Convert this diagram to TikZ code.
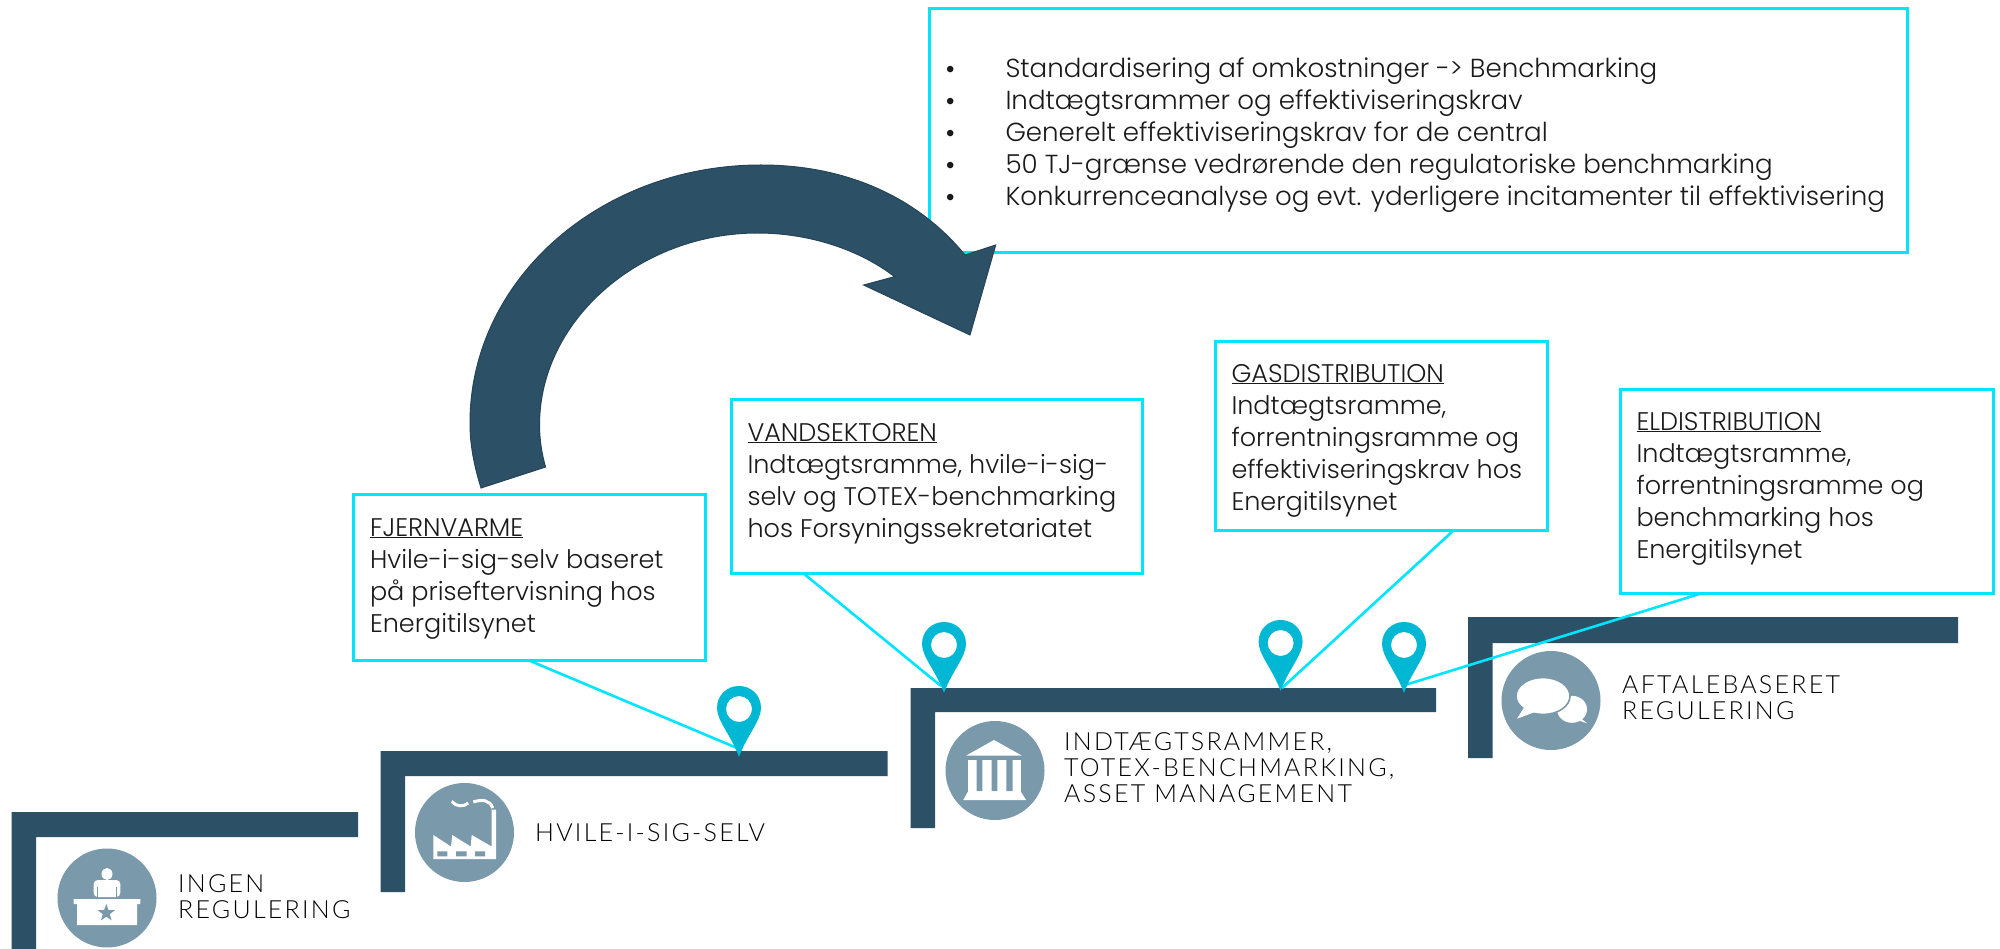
\documentclass[tikz,border=0pt]{standalone}
\usepackage{fontspec}
\setmainfont{Poppins Light}
\newfontfamily\capsfont[LetterSpace=9]{Lato Light}
\newfontfamily\bulletfont{Liberation Sans}
\usetikzlibrary{shapes.geometric}
\definecolor{stepblue}{HTML}{2C5066}
\definecolor{iconblue}{HTML}{7A99AA}
\definecolor{pincyan}{HTML}{00B8D4}
\definecolor{boxcyan}{HTML}{00E5FF}
\definecolor{inktext}{HTML}{1A1A1A}
\tikzset{
  stepbar/.style={fill=stepblue,draw=none},
  iconback/.style={circle,fill=iconblue,draw=none,minimum size=99pt,inner sep=0pt},
  iconwhite/.style={fill=white,draw=none},
  icongray/.style={fill=iconblue,draw=none},
  infobox/.style={draw=boxcyan,line width=3pt,fill=white,anchor=north west,inner xsep=16.5pt,inner ysep=0pt,outer sep=0pt,text=inktext,font=\fontsize{25.5pt}{32pt}\selectfont},
  callout/.style={draw=boxcyan,line width=2.6pt},
  steplabel/.style={anchor=base west,inner sep=0pt,align=left,text=black,font=\capsfont\fontsize{25pt}{25.7pt}\selectfont},
  mappin/.pic={
    \fill[pincyan,even odd rule] (0,0) .. controls (-8,-22) and (-22,-36) .. (-22,-49) .. controls (-22,-62) and (-12,-71) .. (0,-71) .. controls (12,-71) and (22,-62) .. (22,-49) .. controls (22,-36) and (8,-22) .. (0,0) -- cycle (0,-48) ellipse [x radius=13,y radius=13];
  }
}
% name, x, y, width, height, first-baseline offset, text
\newcommand{\infonode}[7]{%
  \node[infobox] (#1) at (#2,#3) {\parbox[c][#5pt][t]{#4pt}{\raggedright\vspace*{\dimexpr#6pt-24pt\relax}\rule{0pt}{24pt}#7}};
}
\newcommand{\hd}[1]{\underline{#1}}
\newcommand{\bul}[1]{\makebox[59.5pt][l]{{\bulletfont\fontsize{24pt}{32pt}\selectfont •}}#1\par}
\begin{document}
\begin{tikzpicture}[x=1pt,y=-1pt]
\useasboundingbox (0,0) rectangle (2000,949);
\fill[white] (0,0) rectangle (2000,949);

% top box
\infonode{topbox}{929.5}{9}{945}{244}{69}{\fontsize{26.1pt}{32pt}\selectfont
\bul{Standardisering af omkostninger -> Benchmarking}%
\bul{Indtægtsrammer og effektiviseringskrav}%
\bul{Generelt effektiviseringskrav for de central}%
\bul{50 TJ-grænse vedrørende den regulatoriske benchmarking}%
\bul{Konkurrenceanalyse og evt. yderligere incitamenter til effektivisering}}

% big curved arrow
\fill[stepblue,draw=stepblue!85!black,line width=1pt,line join=miter]
 (481,488) .. controls (474,465) and (470,445) .. (470,423)
 .. controls (470,280) and (600,165) .. (761,165)
 .. controls (850,165) and (920,200) .. (965,255)
 -- (995.7,245) -- (970,335) -- (863.6,285) -- (894.6,276.7)
 .. controls (860,250) and (810,233) .. (757.6,233)
 .. controls (640,233) and (539.5,320) .. (539.5,425)
 .. controls (539.5,440) and (542,455) .. (545.6,467) -- cycle;

% steps
\fill[stepbar] (11.5,949) -- (11.5,812) -- (358,812) -- (358,837) -- (36,837) -- (36,949) -- cycle;
\fill[stepbar] (380.5,892) -- (380.5,751) -- (887.5,751) -- (887.5,776) -- (405,776) -- (405,892) -- cycle;
\fill[stepbar] (910.5,828) -- (910.5,688) -- (1436,688) -- (1436,712) -- (935,712) -- (935,828) -- cycle;
\fill[stepbar] (1468,758) -- (1468,617) -- (1958,617) -- (1958,643) -- (1492.5,643) -- (1492.5,758) -- cycle;

% icon: desk
\node[iconback] (icondesk) at (107,898) {};
\fill[iconwhite] (107,874) ellipse [x radius=5.5,y radius=6];
\fill[iconwhite,rounded corners=4pt] (93.7,897) -- (93.7,880) -- (120.3,880) -- (120.3,897) -- cycle;
\draw[iconblue,line width=1pt] (97.7,887) -- (97.7,897) (116.3,887) -- (116.3,897);
\fill[iconwhite] (73.7,899) rectangle (140.3,904) (77,904) rectangle (137,925);
\node[star,star points=5,star point ratio=2.4,icongray,minimum size=18pt,inner sep=0pt] (deskstar) at (106.3,913) {};

% icon: factory
\node[iconback] (iconfactory) at (464.5,832.5) {};
\fill[iconwhite] (433.3,859) -- (433.3,835) -- (451,846.5) -- (452.3,835) -- (470.7,846.5) -- (471.7,835) -- (491.7,846.5) -- (491.7,809.7) -- (496,809.7) -- (496,859) -- cycle;
\fill[icongray] (437.3,851.3) rectangle (447.3,856.3) (456,851.3) rectangle (466.7,856.3) (475,851.3) rectangle (485,856.3);
\draw[white,line width=3pt] (451.7,801.3) .. controls (456,807) and (464,807) .. (468.3,803);
\draw[white,line width=3pt] (473.3,802) .. controls (482,799) and (490,800) .. (492.7,808);

% icon: temple
\node[iconback] (icontemple) at (995,770.5) {};
\fill[iconwhite] (994,740) -- (1022,755.7) -- (966,755.7) -- cycle;
\fill[iconwhite] (968,760) rectangle (1020.7,792);
\fill[icongray] (976.7,760) rectangle (982.3,791) (991.7,760) rectangle (997.3,791) (1006.3,760) rectangle (1012.7,791);
\fill[iconwhite] (968,791.5) -- (1020.7,791.5) -- (1026,800) -- (963.3,800) -- cycle;

% icon: speech
\node[iconback] (iconspeech) at (1551,700.5) {};
\fill[iconwhite] (1572,709.3) ellipse [x radius=15,y radius=13.5];
\fill[iconwhite] (1578,716) -- (1587,723.3) -- (1580,721) -- (1572,720) -- cycle;
\fill[iconwhite] (1562,712) -- (1570,716) -- (1562,718) -- cycle;
\fill[iconwhite,draw=iconblue,line width=1.6pt] (1543,696) ellipse [x radius=27,y radius=18.5];
\fill[iconwhite] (1525,706) -- (1517,718.7) -- (1535,712) -- cycle;

% callouts
\infonode{fjern}{353.5}{494.5}{319}{165.5}{41.5}{\hd{FJERNVARME}\\Hvile-i-sig-selv baseret\\på priseftervisning hos\\Energitilsynet}
\infonode{vand}{731}{400}{378}{173}{41}{\hd{VANDSEKTOREN}\\Indtægtsramme, hvile-i-sig-\\selv og TOTEX-benchmarking\\hos Forsyningssekretariatet}
\infonode{gas}{1215}{342}{299}{188}{40}{\hd{GASDISTRIBUTION}\\Indtægtsramme,\\forrentningsramme og\\effektiviseringskrav hos\\Energitilsynet}
\infonode{el}{1620}{390}{340}{203}{40}{\hd{ELDISTRIBUTION}\\Indtægtsramme,\\forrentningsramme og\\benchmarking hos\\Energitilsynet}

% pins
\coordinate (pinA) at (739,757);
\coordinate (pinB) at (944,693);
\coordinate (pinC) at (1280.6,691);
\coordinate (pinD) at (1404,693);
\coordinate (footA) at (528,660);
\coordinate (footB) at (803,573);
\coordinate (footC) at (1454,530);
\coordinate (footD) at (1702.5,593);
\coordinate (endA) at (737,748);
\coordinate (endB) at (941,686);
\coordinate (endC) at (1282,688);
\coordinate (endD) at (1405,685);
\draw[callout] (footA) -- (endA);
\draw[callout] (footB) -- (endB);
\draw[callout] (footC) -- (endC);
\draw[callout] (footD) -- (endD);
\pic at (pinA) {mappin};
\pic at (pinB) {mappin};
\pic at (pinC) {mappin};
\pic at (pinD) {mappin};

% step labels
\node[steplabel] (lab1) at (178,918) {INGEN\\REGULERING};
\node[steplabel] (lab2) at (535,841) {HVILE-I-SIG-SELV};
\node[steplabel] (lab3) at (1064,802) {INDTÆGTSRAMMER,\\TOTEX-BENCHMARKING,\\ASSET MANAGEMENT};
\node[steplabel] (lab4) at (1622,719) {AFTALEBASERET\\REGULERING};
\end{tikzpicture}
\end{document}
